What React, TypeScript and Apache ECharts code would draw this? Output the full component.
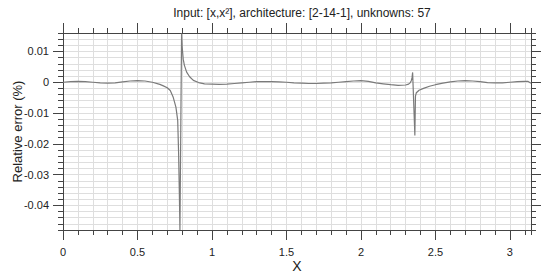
import React, { useEffect, useRef } from "react";
import * as echarts from "echarts";

const xs = [
  0.0, 0.05, 0.1, 0.15, 0.2, 0.25, 0.3, 0.35, 0.4, 0.45, 0.5, 0.55, 0.6, 0.65, 0.67, 0.7, 0.72, 0.74, 0.758, 0.77,
  0.776, 0.781, 0.785, 0.796, 0.8, 0.807, 0.815, 0.83, 0.85, 0.875, 0.91, 0.95, 1.0, 1.05, 1.1, 1.15, 1.2, 1.25,
  1.3, 1.35, 1.4, 1.45, 1.5, 1.55, 1.6, 1.65, 1.7, 1.75, 1.8, 1.85, 1.9, 1.95, 2.0, 2.05, 2.1, 2.15, 2.2, 2.25,
  2.3, 2.32, 2.33, 2.338, 2.343, 2.347, 2.362, 2.366, 2.372, 2.39, 2.42, 2.46, 2.5, 2.55, 2.6, 2.65, 2.7, 2.75,
  2.8, 2.85, 2.9, 2.95, 3.0, 3.05, 3.1, 3.12, 3.1416,
];
const ys = [
  0.0, 0.0002, 0.0003, 0.0002, 0.0, -0.0002, -0.0003, -0.0002, 0.0001, 0.0004, 0.0005, 0.0004, 0.0, -0.0007,
  -0.0011, -0.0018, -0.0027, -0.0049, -0.0081, -0.0124, -0.023, -0.036, -0.048, 0.0158, 0.0115, 0.0075, 0.0055,
  0.0033, 0.0018, 0.0006, -0.0001, -0.0005, -0.0006, -0.0007, -0.0006, -0.0004, -0.0002, 0.0, 0.0002, 0.0002,
  0.0002, 0.0001, 0.0, -0.0002, -0.0003, -0.0004, -0.0004, -0.0003, -0.0002, 0.0, 0.0002, 0.0004, 0.0005, 0.0003,
  -0.0002, -0.0005, -0.0008, -0.001, -0.0009, -0.0006, -0.0002, 0.0005, 0.0015, 0.0032, -0.0173, -0.0045, -0.0034,
  -0.0026, -0.002, -0.0013, -0.0008, -0.0003, 0.0001, 0.0004, 0.0005, 0.0004, 0.0002, -0.0001, -0.0002, -0.0002,
  0.0, 0.0002, 0.0003, 0.0003, -0.0003,
];
const xMajorTicks = [0, 0.5, 1, 1.5, 2, 2.5, 3];
const yMajorTicks = [-0.04, -0.03, -0.02, -0.01, 0, 0.01];
const titleText = "Input: [x,x²], architecture: [2-14-1], unknowns: 57";
const xName = "X";
const yName = "Relative error (%)";

const X_MIN = 0;
const X_MAX = Math.PI;
const Y_MIN = -0.048;
const Y_MAX = 0.016;

const FONT = "'Liberation Sans', Arial, sans-serif";
const AXIS_COLOR = "#444";
const GRID_COLOR = "#dedede";
const TEXT_COLOR = "#222";

function isMultiple(v: number, step: number) {
  const r = v / step;
  return Math.abs(r - Math.round(r)) < 1e-6;
}

export default function App() {
  const ref = useRef<HTMLDivElement>(null);
  useEffect(() => {
    if (!ref.current) return;
    const chart = echarts.init(ref.current, undefined, { renderer: "svg" });
    const axisLine = { show: true, onZero: false, lineStyle: { color: AXIS_COLOR, width: 1 } };
    const minorX = (position: "top" | "bottom", grid: boolean) => ({
      type: "value",
      position,
      min: X_MIN,
      max: X_MAX,
      interval: 0.1,
      axisLine,
      axisTick: { show: true, length: 5, lineStyle: { color: AXIS_COLOR } },
      axisLabel: { show: false },
      splitLine: { show: grid, lineStyle: { color: GRID_COLOR, width: 1 } },
    });
    const majorX = (position: "top" | "bottom", labels: boolean) => ({
      type: "value",
      position,
      min: X_MIN,
      max: X_MAX,
      interval: 0.5,
      axisLine,
      axisTick: { show: true, length: 10, customValues: xMajorTicks, lineStyle: { color: AXIS_COLOR } },
      axisLabel: {
        show: labels,
        customValues: xMajorTicks,
        margin: 16,
        fontSize: 11,
        color: TEXT_COLOR,
        fontFamily: FONT,
        formatter: (v: number) => (isMultiple(v, 0.5) ? String(v) : ""),
      },
      splitLine: { show: false },
      ...(labels
        ? {
            name: xName,
            nameLocation: "middle",
            nameGap: 29,
            nameMoveOverlap: false,
            nameTextStyle: { fontSize: 14, color: TEXT_COLOR, fontFamily: FONT },
          }
        : {}),
    });
    const minorY = (position: "left" | "right", grid: boolean) => ({
      type: "value",
      position,
      min: Y_MIN,
      max: Y_MAX,
      interval: 0.002,
      axisLine,
      axisTick: { show: true, length: 5, lineStyle: { color: AXIS_COLOR } },
      axisLabel: { show: false },
      splitLine: { show: grid, lineStyle: { color: GRID_COLOR, width: 1 } },
    });
    const majorY = (position: "left" | "right", labels: boolean) => ({
      type: "value",
      position,
      min: Y_MIN,
      max: Y_MAX,
      interval: 0.002,
      axisLine,
      axisTick: { show: true, length: 10, customValues: yMajorTicks, lineStyle: { color: AXIS_COLOR } },
      axisLabel: {
        show: labels,
        customValues: yMajorTicks,
        margin: 14,
        fontSize: 11,
        color: TEXT_COLOR,
        fontFamily: FONT,
        formatter: (v: number) => (isMultiple(v, 0.01) ? String(Math.round(v * 100) / 100) : ""),
      },
      splitLine: { show: false },
      ...(labels
        ? {
            name: yName,
            nameLocation: "middle",
            nameGap: 39,
            nameMoveOverlap: false,
            nameTextStyle: { fontSize: 13, color: TEXT_COLOR, fontFamily: FONT },
          }
        : {}),
    });
    const data = xs.map((x, i) => [x, ys[i]]);
    chart.setOption({
      animation: false,
      backgroundColor: "#ffffff",
      title: {
        text: titleText,
        left: 297,
        textAlign: "center",
        top: 2,
        textStyle: { fontSize: 12, fontWeight: "normal", color: TEXT_COLOR, fontFamily: FONT },
      },
      grid: { left: 63, right: 19, top: 33, bottom: 50, containLabel: false, outerBoundsMode: "none" },
      xAxis: [minorX("bottom", true), majorX("bottom", true), minorX("top", false), majorX("top", false)],
      yAxis: [minorY("left", true), majorY("left", true), minorY("right", false), majorY("right", false)],
      series: [
        {
          type: "line",
          xAxisIndex: 0,
          yAxisIndex: 0,
          data,
          showSymbol: false,
          symbol: "none",
          lineStyle: { color: "#7a7a7a", width: 1.2 },
        },
      ],
    });
    return () => chart.dispose();
  }, []);
  return <div ref={ref} style={{ position: "fixed", left: 0, top: 0, width: 550, height: 280 }} />;
}
